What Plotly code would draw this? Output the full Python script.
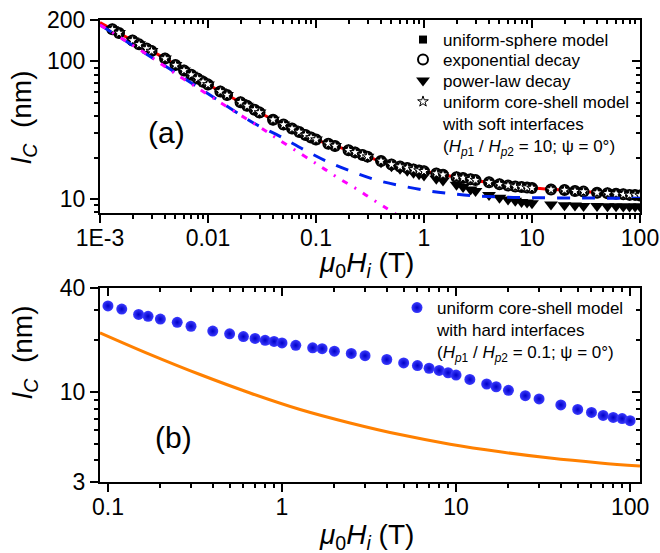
import math
import plotly.graph_objects as go

# ---------------- panel (a): soft interfaces ----------------
H_model = [0.0013, 0.0015, 0.002, 0.0023, 0.0027, 0.003, 0.004, 0.005, 0.006, 0.007, 0.008, 0.009, 0.01,
           0.013, 0.015, 0.02, 0.023, 0.027, 0.03, 0.04, 0.05, 0.06, 0.07, 0.08, 0.09, 0.1,
           0.13, 0.15, 0.2, 0.23, 0.27, 0.3, 0.4, 0.5, 0.6, 0.7, 0.8, 0.9, 1,
           1.3, 1.5, 2, 2.3, 2.7, 3, 4, 5, 6, 7, 8, 9, 10,
           15, 20, 25, 30, 40, 50, 60, 70, 80, 90, 100]
lc_sphere = [171, 161, 142, 133, 124, 119, 105, 94, 86, 80, 75, 71, 68,
             60.5, 57, 50.5, 47.5, 44.5, 42.5, 37.7, 34.7, 32.5, 30.7, 29.2, 28, 27,
             25.2, 24.3, 22.6, 21.8, 20.9, 20.3, 18.9, 17.8, 17.2, 16.8, 16.4, 16.1, 15.9,
             15.3, 15.0, 14.4, 14.2, 13.9, 13.7, 13.2, 12.8, 12.5, 12.3, 12.2, 12.1, 12.0,
             11.7, 11.6, 11.4, 11.3, 11.1, 11.0, 10.9, 10.8, 10.7, 10.7, 10.6]
lc_exponential = list(lc_sphere)
lc_powerlaw = [171, 161, 142, 133, 124, 119, 105, 94, 86, 80, 75, 71, 68,
               60.5, 57, 50.5, 47.5, 44.5, 42.5, 37.7, 34.7, 32.5, 30.7, 29.2, 28, 27,
               25.2, 24.3, 22.6, 21.8, 20.9, 20.3, 18.5, 17.3, 16.6, 16.0, 15.5, 15.1, 14.8,
               14.0, 13.6, 12.7, 12.2, 11.7, 11.4, 10.7, 10.2, 9.9, 9.7, 9.5, 9.4, 9.3,
               9.1, 9.0, 8.95, 8.9, 8.9, 8.85, 8.85, 8.8, 8.8, 8.8, 8.8]
lc_soft_shell = list(lc_sphere)

H_fit = [0.001, 0.002, 0.004, 0.01, 0.02, 0.04, 0.1, 0.2, 0.5, 1, 2, 5, 10, 20, 50, 100]
lc_fit = [192, 142, 105, 68, 50.5, 37.7, 27, 22.6, 17.8, 15.9, 14.4, 12.8, 12.0, 11.6, 11.0, 10.6]

H_dash = [0.001, 0.00344, 0.0093, 0.0272, 0.0464, 0.079, 0.135, 0.23, 0.39, 0.667,
          1.14, 1.85, 3.16, 5.6, 10, 30, 100]
lc_dash = [184, 100, 60.4, 35.2, 28.5, 22.6, 18.3, 15.5, 13.5, 12.3,
           11.4, 10.9, 10.5, 10.3, 10.2, 10.15, 10.1]

H_dashdot = [0.001, 0.003, 0.0047, 0.017, 0.0337, 0.0435, 0.088, 0.121, 0.163, 0.23, 0.316, 0.435, 0.6]
lc_dashdot = [184, 107, 84, 44, 31.5, 27.5, 19.3, 16.4, 14.1, 12.0, 10.2, 8.7, 7.4]

lc_limit_a = 10

# ---------------- panel (b): hard interfaces ----------------
H_hard = [0.1, 0.12, 0.15, 0.17, 0.2, 0.25, 0.3, 0.4, 0.5, 0.6, 0.7, 0.8, 0.9,
          1, 1.2, 1.5, 1.7, 2, 2.5, 3, 4, 5, 6, 7, 8, 9,
          10, 12, 15, 17, 20, 25, 30, 40, 50, 60, 70, 80, 90, 100]
lc_hard = [31.5, 30.2, 28.1, 27.4, 26.4, 25.3, 24.0, 22.5, 21.7, 20.9, 20.4, 19.9, 19.6,
           19.2, 18.6, 18.0, 17.8, 17.2, 16.7, 16.2, 15.4, 14.7, 14.2, 13.7, 13.3, 12.9,
           12.5, 11.8, 11.1, 10.7, 10.2, 9.5, 9.1, 8.4, 7.9, 7.6, 7.3, 7.1, 7.0, 6.8]

H_orange = [0.09, 0.174, 0.338, 0.655, 1.27, 2.46, 4.76, 9.24, 17.9, 34.7, 67.2, 114]
lc_orange = [22.0, 16.5, 12.6, 9.85, 7.9, 6.6, 5.65, 4.97, 4.49, 4.13, 3.87, 3.71]

lc_limits_b = [10, 13]

# ---------------- axis ticks ----------------
xa_ticks = [1e-3, 1e-2, 0.1, 1, 10, 100]
xa_labels = ["1E-3", "0.01", "0.1", "1", "10", "100"]
ya_ticks = [10, 100, 200]
ya_labels = ["10", "100", "200"]
xb_ticks = [0.1, 1, 10, 100]
xb_labels = ["0.1", "1", "10", "100"]
yb_ticks = [3, 10, 40]
yb_labels = ["3", "10", "40"]

FONT = "Liberation Sans, Arial, sans-serif"
W, H = 660, 553


def px_x(p):
    return p / W


def px_y(p):
    return 1 - p / H


def lg(lo, hi):
    return [math.log10(lo), math.log10(hi)]


xa_minor = [m * 10 ** e for e in range(-3, 2) for m in range(2, 10)]
ya_minor = [8, 9] + [m * 10 for m in range(2, 10)]
xb_minor = [m * 10 ** e for e in range(-1, 2) for m in range(2, 10)]
yb_minor = [4, 5, 6, 7, 8, 9, 20, 30]

xa_range = lg(1e-3, 100)
ya_range = lg(7.9, 200)
xb_range = lg(0.09, 114)
yb_range = lg(3, 40)

dom_x = [px_x(100), px_x(640)]
dom_ya = [px_y(213), px_y(20)]
dom_yb = [px_y(482), px_y(288)]

fig = go.Figure()

# panel (a) lines and symbols (open circles go under the filled squares)
fig.add_trace(go.Scatter(x=H_fit, y=lc_fit, mode="lines", line=dict(color="#ff0000", width=3, shape="spline"),
                         showlegend=False, xaxis="x", yaxis="y"))
fig.add_trace(go.Scatter(x=H_model, y=lc_exponential, mode="markers", name="exponential decay", legend="legend3",
                         marker=dict(symbol="circle", size=10, color="white", line=dict(color="black", width=2)),
                         xaxis="x", yaxis="y"))
fig.add_trace(go.Scatter(x=H_model, y=lc_sphere, mode="markers", name="uniform-sphere model", legend="legend",
                         marker=dict(symbol="square", size=8, color="black"), xaxis="x", yaxis="y"))
fig.add_trace(go.Scatter(x=H_model, y=lc_powerlaw, mode="markers", name="power-law decay", legend="legend4",
                         marker=dict(symbol="triangle-down", size=12, color="black"), xaxis="x", yaxis="y"))
fig.add_trace(go.Scatter(x=H_model, y=lc_soft_shell, mode="markers", legend="legend5",
                         name="uniform core-shell model<br>with soft interfaces<br>"
                              "(<i>H</i><sub><i>p</i>1</sub> / <i>H</i><sub><i>p</i>2</sub> = 10; ψ = 0°)",
                         marker=dict(symbol="star", size=8, color="white", line=dict(color="black", width=1)),
                         xaxis="x", yaxis="y"))
fig.add_trace(go.Scatter(x=H_dash, y=lc_dash, mode="lines",
                         line=dict(color="#0022ee", width=3, dash="13px,12px", shape="spline"),
                         showlegend=False, xaxis="x", yaxis="y"))
fig.add_trace(go.Scatter(x=H_dashdot, y=lc_dashdot, mode="lines",
                         line=dict(color="#ff00ff", width=3, dash="6px,8px,2px,8px", shape="spline"),
                         showlegend=False, xaxis="x", yaxis="y"))

# panel (b)
fig.add_trace(go.Scatter(x=H_orange, y=lc_orange, mode="lines", line=dict(color="#ff8000", width=3, shape="spline"),
                         showlegend=False, xaxis="x2", yaxis="y2"))
fig.add_trace(go.Scatter(x=H_hard, y=lc_hard, mode="markers", legend="legend2",
                         name="uniform core-shell model<br>with hard interfaces<br>"
                              "(<i>H</i><sub><i>p</i>1</sub> / <i>H</i><sub><i>p</i>2</sub> = 0.1; ψ = 0°)",
                         marker=dict(symbol="circle", size=11, color="#3c3cff",
                                     gradient=dict(type="radial", color="#0000c8"), line=dict(width=0)),
                         xaxis="x2", yaxis="y2"))

# empty traces that register the mirrored (top/right) axes
fig.add_trace(go.Scatter(x=[], y=[], xaxis="x3", yaxis="y3", showlegend=False, hoverinfo="skip"))
fig.add_trace(go.Scatter(x=[], y=[], xaxis="x4", yaxis="y4", showlegend=False, hoverinfo="skip"))

tickfont = dict(family=FONT, size=23, color="black")


def main_axis(rng, tv, tt, minor_vals, dom=None, anchor=None, standoff=0):
    d = dict(type="log", range=rng, tickmode="array", tickvals=tv, ticktext=tt,
             ticks="outside", ticklen=8, tickwidth=2, tickcolor="black",
             showline=True, linewidth=2, linecolor="black", showgrid=False, zeroline=False,
             tickfont=tickfont, fixedrange=True, automargin=False, ticklabelstandoff=standoff,
             minor=dict(tickmode="array", tickvals=minor_vals, ticks="outside", ticklen=4,
                        tickwidth=1.5, tickcolor="black", showgrid=False))
    if dom is not None:
        d["domain"] = dom
    if anchor is not None:
        d["anchor"] = anchor
    return d


def mirror_axis(rng, tv, minor_vals, overlay, anchor, side):
    return dict(type="log", range=rng, tickmode="array", tickvals=tv, ticks="inside", ticklen=8,
                tickwidth=2, tickcolor="black", showticklabels=False, showline=True, linewidth=2,
                linecolor="black", showgrid=False, zeroline=False, overlaying=overlay, anchor=anchor,
                side=side, fixedrange=True, automargin=False,
                minor=dict(tickmode="array", tickvals=minor_vals, ticks="inside", ticklen=4,
                           tickwidth=1.5, tickcolor="black", showgrid=False))


legend_font = dict(family=FONT, size=17, color="black")


def legend_at(top_px, left_px):
    return dict(x=px_x(left_px), y=px_y(top_px), xanchor="left", yanchor="top", bgcolor="rgba(0,0,0,0)",
                font=legend_font, valign="top", itemclick=False, itemdoubleclick=False)


fig.update_layout(
    width=W, height=H, margin=dict(l=0, r=0, t=0, b=0, autoexpand=False),
    paper_bgcolor="white", plot_bgcolor="white",
    font=dict(family=FONT, color="black"),
    xaxis=main_axis(xa_range, xa_ticks, xa_labels, xa_minor, dom=dom_x, anchor="y", standoff=-5),
    yaxis=main_axis(ya_range, ya_ticks, ya_labels, ya_minor, dom=dom_ya, anchor="x"),
    xaxis2=main_axis(xb_range, xb_ticks, xb_labels, xb_minor, dom=dom_x, anchor="y2", standoff=-5),
    yaxis2=main_axis(yb_range, yb_ticks, yb_labels, yb_minor, dom=dom_yb, anchor="x2"),
    xaxis3=mirror_axis(xa_range, xa_ticks, xa_minor, "x", "y", "top"),
    yaxis3=mirror_axis(ya_range, ya_ticks, ya_minor, "y", "x", "right"),
    xaxis4=mirror_axis(xb_range, xb_ticks, xb_minor, "x2", "y2", "top"),
    yaxis4=mirror_axis(yb_range, yb_ticks, yb_minor, "y2", "x2", "right"),
    legend=legend_at(40 - 18, 403),
    legend3=legend_at(60 - 18, 403),
    legend4=legend_at(81 - 18, 403),
    legend5=legend_at(102 - 18, 403),
    legend2=legend_at(308 - 18, 397),
    showlegend=True,
)

# reference levels
fig.add_shape(type="line", xref="x domain", yref="y", x0=0, x1=1,
              y0=math.log10(lc_limit_a), y1=math.log10(lc_limit_a),
              line=dict(color="black", width=3), layer="below")
for v in lc_limits_b:
    fig.add_shape(type="line", xref="x2 domain", yref="y2", x0=0, x1=1,
                  y0=math.log10(v), y1=math.log10(v),
                  line=dict(color="black", width=3, dash="2px,8px"), layer="below")

title_font = dict(family=FONT, size=28, color="black")
xtitle = "<i>μ</i><sub>0</sub><i>H</i><sub><i>i</i></sub> (T)"
ytitle = "<i>l</i><sub><i>C</i></sub>  (nm)"
centered = dict(xref="paper", yref="paper", showarrow=False, xanchor="center", yanchor="middle")
annots = [
    dict(text=xtitle, x=px_x(366), y=px_y(264), font=title_font, **centered),
    dict(text=xtitle, x=px_x(366), y=px_y(536), font=title_font, **centered),
    dict(text=ytitle, x=px_x(24), y=px_y(117), font=title_font, textangle=-90, **centered),
    dict(text=ytitle, x=px_x(24), y=px_y(352), font=title_font, textangle=-90, **centered),
    dict(text="(a)", x=px_x(166), y=px_y(133), font=dict(family=FONT, size=30, color="black"), **centered),
    dict(text="(b)", x=px_x(173), y=px_y(437), font=dict(family=FONT, size=30, color="black"), **centered),
]
fig.update_layout(annotations=annots)

fig.write_html("out.html")
